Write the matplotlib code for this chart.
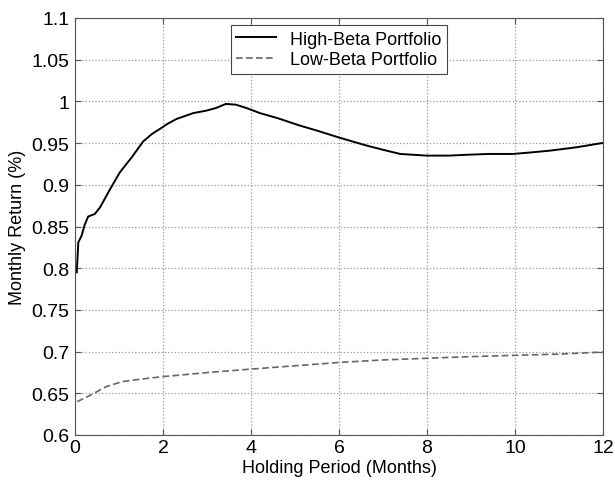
import numpy as np
import matplotlib
matplotlib.use('Agg')
import matplotlib.pyplot as plt

plt.rcParams['font.family'] = ['Liberation Sans', 'DejaVu Sans']

# values
high_months = [0.04, 0.075, 0.15, 0.22, 0.30, 0.45, 0.57, 0.80, 1.02, 1.29, 1.55, 1.75, 1.93,
               2.1, 2.31, 2.69, 2.99, 3.2, 3.43, 3.66, 3.9, 4.2, 4.6, 5.11, 5.5, 5.98, 6.63,
               7.0, 7.39, 7.99, 8.5, 8.9, 9.4, 9.96, 10.4, 10.8, 11.4, 11.97, 12.0]
high_beta = [0.795, 0.831, 0.839, 0.852, 0.862, 0.865, 0.873, 0.895, 0.915, 0.933, 0.952, 0.961, 0.967,
             0.973, 0.979, 0.986, 0.989, 0.992, 0.997, 0.996, 0.992, 0.986, 0.980, 0.971, 0.965, 0.957, 0.947,
             0.942, 0.937, 0.935, 0.935, 0.936, 0.937, 0.937, 0.939, 0.941, 0.945, 0.950, 0.950]

low_months = [0.05, 0.36, 0.71, 1.07, 1.5, 2.0, 3.03, 4.0, 5.0, 6.0, 7.0, 8.0, 9.0, 10.0, 11.0, 12.0]
low_beta = [0.640, 0.648, 0.658, 0.664, 0.667, 0.670, 0.675, 0.679, 0.683, 0.687, 0.690, 0.692,
            0.694, 0.6955, 0.697, 0.6995]

fig = plt.figure(figsize=(6.15, 4.81), dpi=100)
ax = fig.add_axes([75/615, 1-436/481, 528/615, 417/481])

ax.plot(high_months, high_beta, color='black', lw=1.4, label='High-Beta Portfolio')
ax.plot(low_months, low_beta, color='#666666', lw=1.2, ls='--', dashes=(4, 2), label='Low-Beta Portfolio')

ax.set_xlim(0, 12)
ax.set_ylim(0.6, 1.1)
ax.set_xticks(np.arange(0, 13, 2))
ax.set_yticks(np.arange(0.6, 1.101, 0.05))
ax.set_yticklabels(['0.6', '0.65', '0.7', '0.75', '0.8', '0.85', '0.9', '0.95', '1', '1.05', '1.1'])
ax.grid(True, ls=':', color='#999999', lw=0.9)
ax.tick_params(direction='in', top=True, right=True, labelsize=14, length=4, color='#555555')
ax.tick_params(axis='y', pad=4)
ax.tick_params(axis='x', pad=3)
for s in ax.spines.values():
    s.set_color('#555555')

ax.set_xlabel('Holding Period (Months)', fontsize=13, labelpad=2)
ax.set_ylabel('Monthly Return (%)', fontsize=13, labelpad=4)

leg = ax.legend(loc='upper center', fontsize=13, fancybox=False, edgecolor='#444444',
                framealpha=1, borderpad=0.3, labelspacing=0.2, handlelength=2.2, borderaxespad=0.4)
leg.get_frame().set_linewidth(0.8)

fig.savefig('out.png', dpi=100)
